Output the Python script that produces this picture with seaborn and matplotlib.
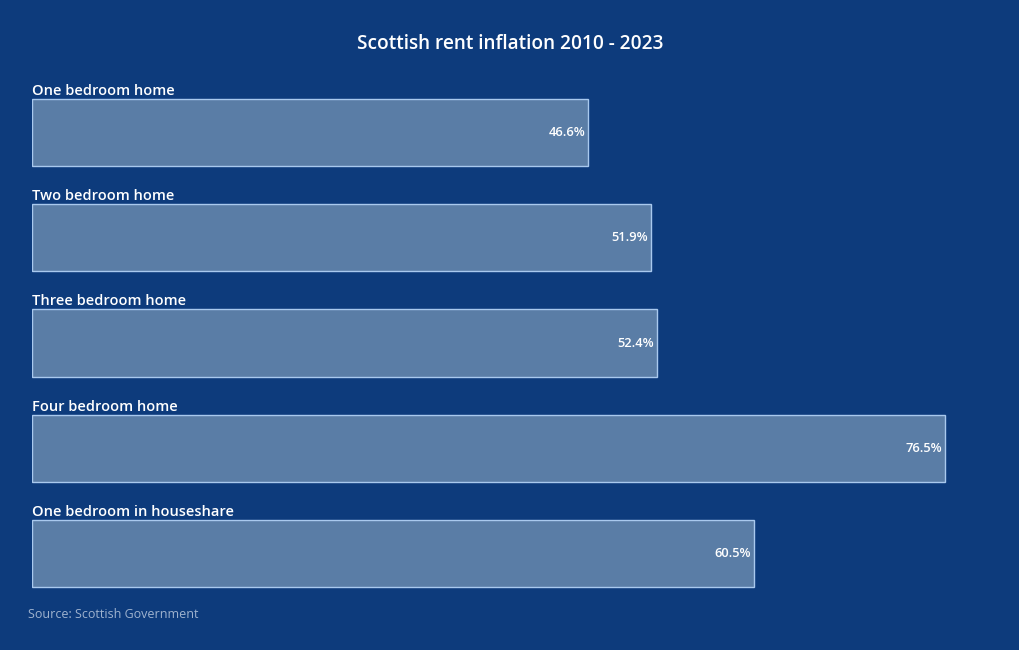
import matplotlib
matplotlib.use("Agg")
import matplotlib.pyplot as plt
import seaborn as sns
import pandas as pd

categories = ["One bedroom home", "Two bedroom home", "Three bedroom home",
              "Four bedroom home", "One bedroom in houseshare"]
values = [46.6, 51.9, 52.4, 76.5, 60.5]
value_labels = ["46.6%", "51.9%", "52.4%", "76.5%", "60.5%"]
title = "Scottish rent inflation 2010 - 2023"
source = "Source: Scottish Government"

sns.set_theme(style="white")
plt.rcParams["font.family"] = ["Open Sans", "DejaVu Sans"]

BG = "#0d3b7c"
BAR = "#5a7da6"
EDGE = "#a9c9ee"

df = pd.DataFrame({"category": categories, "value": values})

fig = plt.figure(figsize=(10.2, 6.5), dpi=100, facecolor=BG)
px = 1 / 1020
py = 1 / 650
scale = (588 - 32) / 46.6  # px per percent
xmax = 80
ax_w = xmax * scale
ax = fig.add_axes([32 * px, 1 - 616.5 * py, ax_w * px, 589 * py])
ax.set_facecolor(BG)

sns.barplot(data=df, x="value", y="category", orient="h", ax=ax,
            color=BAR, edgecolor=EDGE, linewidth=1.0, width=0.638,
            saturation=1)

ax.set_xlim(0, xmax)
ax.set_ylim(4.6, -1.0)
for s in ax.spines.values():
    s.set_visible(False)
ax.set_xticks([])
ax.set_yticks([])
ax.set_xlabel("")
ax.set_ylabel("")

for i, (cat, v, lab) in enumerate(zip(categories, values, value_labels)):
    ax.text(0, i - 0.357, cat, ha="left", va="baseline", color="white",
            fontsize=10.5, fontweight="semibold")
    ax.text(v - 0.25, i, lab, ha="right", va="center", color="white",
            fontsize=9.3, fontweight="semibold")

fig.text(510 * px, 1 - 44 * py, title, ha="center", va="center",
         color="white", fontsize=13.7, fontweight="semibold")
fig.text(28 * px, 1 - 614 * py, source, ha="left", va="center",
         color="#9fb3cf", fontsize=9)

fig.savefig("out.png", dpi=100, facecolor=BG)
